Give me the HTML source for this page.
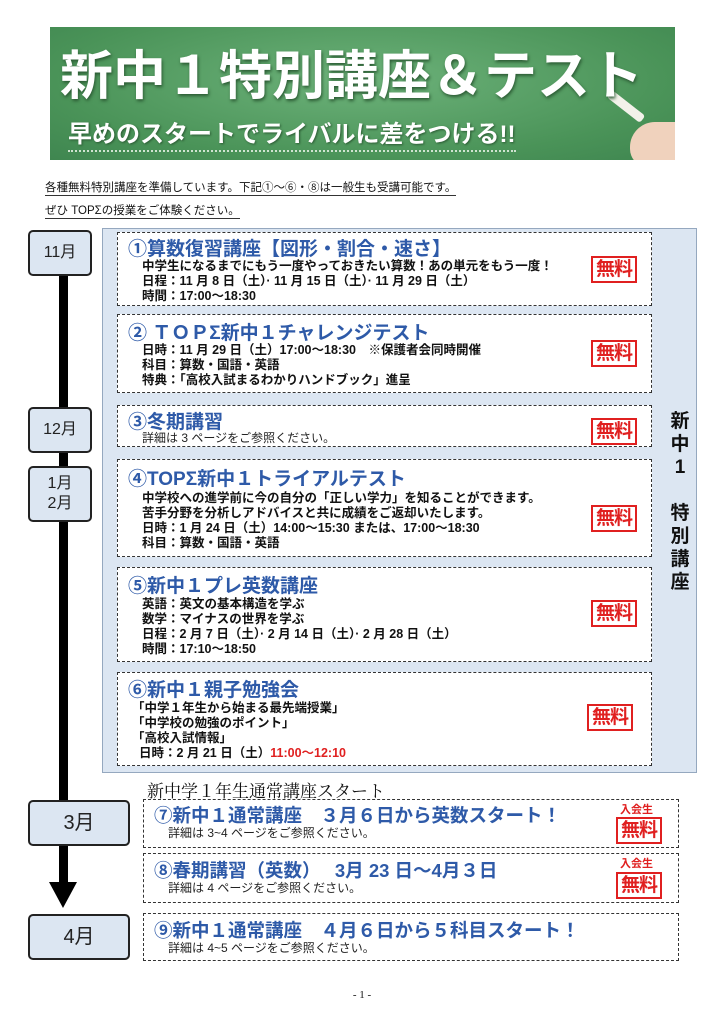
<!DOCTYPE html>
<html><head><meta charset="utf-8"><style>
*{margin:0;padding:0;box-sizing:border-box}
body{width:724px;height:1024px;background:#fff;position:relative;overflow:hidden;font-family:"Liberation Sans","Noto Sans CJK JP",sans-serif;color:#111}
.a{position:absolute}
.banner{left:50px;top:27px;width:625px;height:133px;background:radial-gradient(ellipse at 50% 40%,#6db27a,#4a9358 70%,#3f8650);overflow:hidden}
.t1{left:60px;top:34px;font-size:53px;font-weight:bold;color:#fff;white-space:nowrap;text-shadow:1px 2px 3px #2b5a33}
.t2{left:68px;top:114px;font-size:24px;font-weight:bold;color:#fff;white-space:nowrap;text-shadow:1px 1px 2px #2b5a33;border-bottom:2px dotted #cfe3d0;padding-bottom:1px}
.intro{font-size:11.5px;white-space:nowrap;border-bottom:1px solid #333;left:45px}
.panel{left:102px;top:228px;width:595px;height:545px;background:#dce6f2;border:1px solid #95a8bf}
.box{background:#fff;border:1.5px dashed #333;}
.h{color:#2e5aa8;font-weight:bold;font-size:19px;white-space:nowrap;position:absolute}
.b{font-size:12.5px;font-weight:bold;line-height:15px;white-space:nowrap;position:absolute}
.n{font-size:12px;line-height:14px;white-space:nowrap;position:absolute;color:#222}
.free{position:absolute;width:46px;height:27px;border:2px solid #e02020;color:#e02020;font-weight:bold;font-size:19px;line-height:23px;text-align:center;letter-spacing:-1px;background:#fff}
.mon{background:#dce6f2;border:2px solid #222;border-radius:5px;text-align:center;font-size:16px;color:#222}
</style></head><body>
<div class="a banner">
<div class="a" style="left:555px;top:75px;width:42px;height:9px;background:#f3f1ea;transform:rotate(38deg);border-radius:3px"></div>
<div class="a" style="left:580px;top:95px;width:50px;height:45px;background:#f0d2bd;border-radius:25px 0 0 18px"></div>
</div>
<div class="a t1">新中１特別講座＆テスト</div>
<div class="a t2">早めのスタートでライバルに差をつける!!</div>
<div class="a intro" style="top:179px">各種無料特別講座を準備しています。下記①～⑥・⑧は一般生も受講可能です。</div>
<div class="a intro" style="top:202px">ぜひ TOPΣの授業をご体験ください。</div>

<div class="a" style="left:59px;top:270px;width:9px;height:615px;background:#000"></div>
<div class="a" style="left:49px;top:882px;width:0;height:0;border-left:14px solid transparent;border-right:14px solid transparent;border-top:26px solid #000"></div>
<div class="a mon" style="left:28px;top:230px;width:64px;height:46px;line-height:42px">11月</div>
<div class="a mon" style="left:28px;top:407px;width:64px;height:46px;line-height:42px">12月</div>
<div class="a mon" style="left:28px;top:466px;width:64px;height:56px;line-height:20px;padding-top:6px">1月<br>2月</div>
<div class="a mon" style="left:28px;top:800px;width:102px;height:46px;line-height:42px;font-size:20px">3月</div>
<div class="a mon" style="left:28px;top:914px;width:102px;height:46px;line-height:42px;font-size:20px">4月</div>

<div class="a panel"></div>
<div class="a" style="left:668px;top:410px;width:24px;font-size:19px;font-weight:bold;line-height:23px;text-align:center">新<br>中<br>1<br><br>特<br>別<br>講<br>座</div>

<div class="a box" style="left:117px;top:232px;width:535px;height:74px">
<div class="h" style="left:10px;top:1px">①算数復習講座【図形・割合・速さ】</div>
<div class="b" style="left:24px;top:26px">中学生になるまでにもう一度やっておきたい算数！あの単元をもう一度！<br>日程：11 月 8 日（土）· 11 月 15 日（土）· 11 月 29 日（土）<br>時間：17:00～18:30</div>
<div class="free" style="left:473px;top:23px">無料</div></div>

<div class="a box" style="left:117px;top:314px;width:535px;height:79px">
<div class="h" style="left:10px;top:3px">② ＴＯＰΣ新中１チャレンジテスト</div>
<div class="b" style="left:24px;top:28px">日時：11 月 29 日（土）17:00～18:30　※保護者会同時開催<br>科目：算数・国語・英語<br>特典：「高校入試まるわかりハンドブック」進呈</div>
<div class="free" style="left:473px;top:25px">無料</div></div>

<div class="a box" style="left:117px;top:405px;width:535px;height:42px">
<div class="h" style="left:10px;top:1px">③冬期講習</div>
<div class="n" style="left:24px;top:25px">詳細は 3 ページをご参照ください。</div>
<div class="free" style="left:473px;top:12px">無料</div></div>

<div class="a box" style="left:117px;top:459px;width:535px;height:98px">
<div class="h" style="left:10px;top:4px">④TOPΣ新中１トライアルテスト</div>
<div class="b" style="left:24px;top:31px">中学校への進学前に今の自分の「正しい学力」を知ることができます。<br>苦手分野を分析しアドバイスと共に成績をご返却いたします。<br>日時：1 月 24 日（土）14:00～15:30 または、17:00～18:30<br>科目：算数・国語・英語</div>
<div class="free" style="left:473px;top:45px">無料</div></div>

<div class="a box" style="left:117px;top:567px;width:535px;height:95px">
<div class="h" style="left:10px;top:3px">⑤新中１プレ英数講座</div>
<div class="b" style="left:24px;top:29px">英語：英文の基本構造を学ぶ<br>数学：マイナスの世界を学ぶ<br>日程：2 月 7 日（土）· 2 月 14 日（土）· 2 月 28 日（土）<br>時間：17:10～18:50</div>
<div class="free" style="left:473px;top:32px">無料</div></div>

<div class="a box" style="left:117px;top:672px;width:535px;height:94px">
<div class="h" style="left:10px;top:2px">⑥新中１親子勉強会</div>
<div class="b" style="left:14px;top:28px">「中学１年生から始まる最先端授業」<br>「中学校の勉強のポイント」<br>「高校入試情報」<br>&nbsp;&nbsp;日時：2 月 21 日（土）<span style="color:#e02020">11:00～12:10</span></div>
<div class="free" style="left:469px;top:31px">無料</div></div>

<div class="a" style="left:147px;top:777px;font-family:'Liberation Serif','Noto Serif CJK SC',serif;font-size:17px;white-space:nowrap">新中学１年生通常講座スタート</div>

<div class="a box" style="left:143px;top:799px;width:536px;height:49px">
<div class="h" style="left:10px;top:2px;font-size:18.5px">⑦新中１通常講座　３月６日から英数スタート！</div>
<div class="n" style="left:24px;top:26px">詳細は 3~4 ページをご参照ください。</div>
<div class="a" style="left:476px;top:1px;font-size:11px;font-weight:bold;color:#e02020">入会生</div>
<div class="free" style="left:472px;top:17px;height:27px">無料</div></div>

<div class="a box" style="left:143px;top:853px;width:536px;height:50px">
<div class="h" style="left:10px;top:3px;font-size:18.5px">⑧春期講習（英数）　 3月 23 日～4月３日</div>
<div class="n" style="left:24px;top:27px">詳細は 4 ページをご参照ください。</div>
<div class="a" style="left:476px;top:1px;font-size:11px;font-weight:bold;color:#e02020">入会生</div>
<div class="free" style="left:472px;top:18px;height:27px">無料</div></div>

<div class="a box" style="left:143px;top:913px;width:536px;height:48px">
<div class="h" style="left:10px;top:3px;font-size:18.5px">⑨新中１通常講座　４月６日から５科目スタート！</div>
<div class="n" style="left:24px;top:27px">詳細は 4~5 ページをご参照ください。</div></div>

<div class="a" style="left:0;top:989px;width:724px;text-align:center;font-size:11px;font-family:'Liberation Serif',serif">- 1 -</div>
</body></html>
